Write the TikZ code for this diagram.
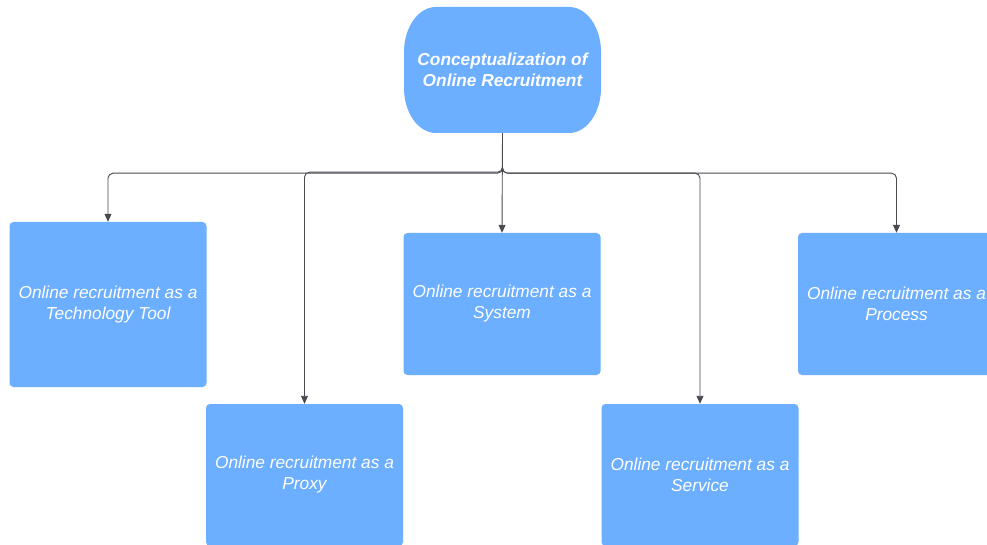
\documentclass[tikz,border=0pt]{standalone}
\usepackage{fontspec}
\setmainfont{Liberation Sans}
\usetikzlibrary{arrows.meta}
\definecolor{boxblue}{RGB}{108,174,255}
\definecolor{linegray}{RGB}{72,74,80}
\tikzset{
  card/.style={rectangle, fill=boxblue, rounded corners=4pt, minimum width=197pt,
    text=white, align=center, inner sep=0pt,
    font=\fontsize{17.3pt}{21pt}\selectfont\itshape},
  conn/.style={draw=linegray, line width=0.9pt, rounded corners=5pt,
    -{Triangle[length=8pt,width=7pt]}}
}
\begin{document}
\begin{tikzpicture}[x=1pt,y=-1pt]
\useasboundingbox (0,0) rectangle (987,545);
\clip (0,0) rectangle (987,545);
\fill[white] (0,0) rectangle (987,545);

% head shape with elliptical corners
\fill[boxblue] (436,7) -- (569,7) arc[start angle=90, end angle=0, x radius=32, y radius=-45]
  -- (601,88) arc[start angle=0, end angle=-90, x radius=32, y radius=-45]
  -- (436,133) arc[start angle=270, end angle=180, x radius=32, y radius=-45]
  -- (404,52) arc[start angle=180, end angle=90, x radius=32, y radius=-45] -- cycle;
\node[rectangle, minimum width=197pt, minimum height=126pt, inner sep=0pt,
  text=white, align=center, font=\fontsize{17.3pt}{21pt}\selectfont\bfseries\itshape]
  (head) at (502.5,70) {Conceptualization of\\Online Recruitment};

\node[card, minimum height=165pt] (tech) at (108,304.5) {Online recruitment as a\\Technology Tool};
\node[card, minimum height=142pt] (proxy) at (304.5,475) {Online recruitment as a\\Proxy};
\node[card, minimum height=142pt] (system) at (502,304) {Online recruitment as a\\System};
\node[card, minimum height=142pt] (service) at (700,475) {Online recruitment as a\\Service};
\node[card, minimum height=142pt] (process) at (896.5,304) {Online recruitment as a\\Process};

\draw[conn] (head.south) -- ++(0,40) -| (tech.north);
\draw[conn] (head.south) -- ++(0,39) -| (proxy.north);
\draw[conn] (head.south) -- (system.north);
\draw[conn] (head.south) -- ++(0,40) -| (service.north);
\draw[conn] (head.south) -- ++(0,40) -| (process.north);
\end{tikzpicture}
\end{document}
